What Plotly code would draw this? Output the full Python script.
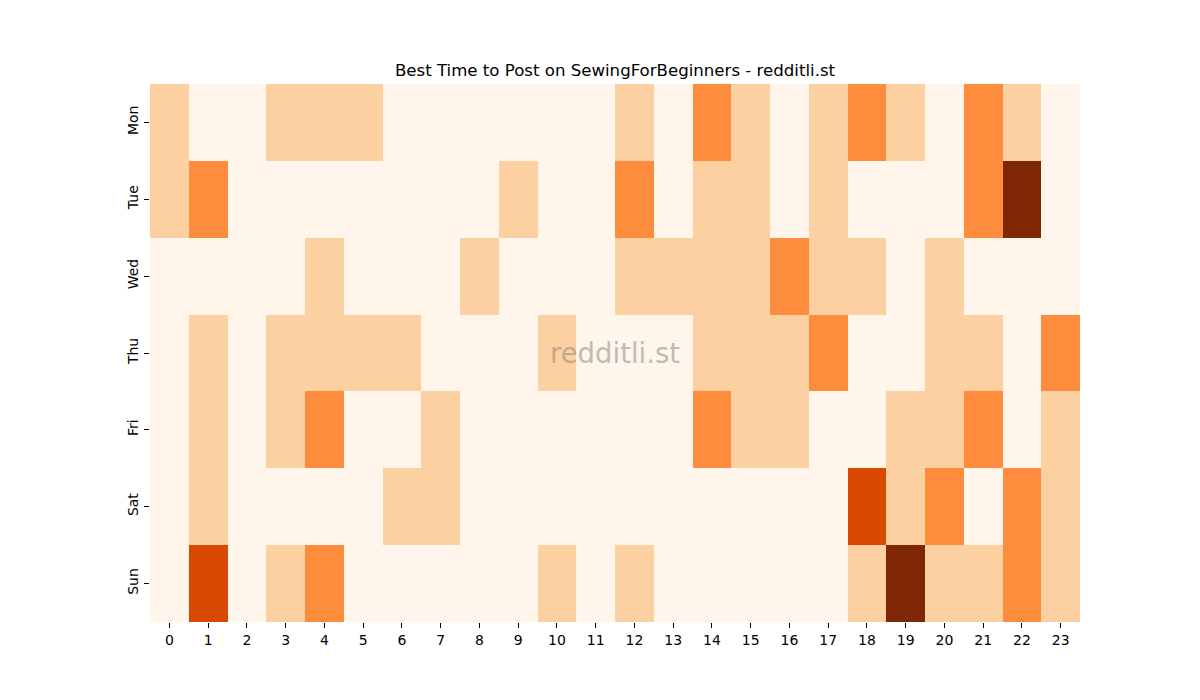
import plotly.graph_objects as go

days = ["Mon", "Tue", "Wed", "Thu", "Fri", "Sat", "Sun"]
hours = [str(h) for h in range(24)]

mon = [1, 0, 0, 1, 1, 1, 0, 0, 0, 0, 0, 0, 1, 0, 2, 1, 0, 1, 2, 1, 0, 2, 1, 0]
tue = [1, 2, 0, 0, 0, 0, 0, 0, 0, 1, 0, 0, 2, 0, 1, 1, 0, 1, 0, 0, 0, 2, 4, 0]
wed = [0, 0, 0, 0, 1, 0, 0, 0, 1, 0, 0, 0, 1, 1, 1, 1, 2, 1, 1, 0, 1, 0, 0, 0]
thu = [0, 1, 0, 1, 1, 1, 1, 0, 0, 0, 1, 0, 0, 0, 1, 1, 1, 2, 0, 0, 1, 1, 0, 2]
fri = [0, 1, 0, 1, 2, 0, 0, 1, 0, 0, 0, 0, 0, 0, 2, 1, 1, 0, 0, 1, 1, 2, 0, 1]
sat = [0, 1, 0, 0, 0, 0, 1, 1, 0, 0, 0, 0, 0, 0, 0, 0, 0, 0, 3, 1, 2, 0, 2, 1]
sun = [0, 3, 0, 1, 2, 0, 0, 0, 0, 0, 1, 0, 1, 0, 0, 0, 0, 0, 1, 4, 1, 1, 2, 1]

z = [mon, tue, wed, thu, fri, sat, sun]

colorscale = [
    [0.0, "#fff5eb"],
    [0.25, "#fdd0a2"],
    [0.5, "#fd8d3c"],
    [0.75, "#d94801"],
    [1.0, "#7f2704"],
]

fig = go.Figure(
    go.Heatmap(
        z=z,
        x=hours,
        y=days,
        colorscale=colorscale,
        zmin=0,
        zmax=4,
        showscale=False,
        xgap=0,
        ygap=0,
    )
)

fig.add_annotation(
    text="redditli.st",
    x=0.5,
    y=0.5,
    xref="paper",
    yref="paper",
    showarrow=False,
    font=dict(size=27.5, color="rgba(128,128,128,0.5)", family="DejaVu Sans"),
)

fig.update_layout(
    width=1200,
    height=700,
    paper_bgcolor="white",
    plot_bgcolor="white",
    margin=dict(l=142, r=128, t=76, b=86),
    font=dict(family="DejaVu Sans", size=14, color="black"),
    title=dict(
        text="Best Time to Post on SewingForBeginners - redditli.st",
        x=(615 - 8) / 1200,
        xanchor="center",
        y=1 - 62 / 700,
        yanchor="middle",
        font=dict(size=16.6, color="black", family="DejaVu Sans"),
    ),
    xaxis=dict(
        type="category",
        ticks="outside",
        ticklen=5,
        tickcolor="black",
        showgrid=False,
        zeroline=False,
        showline=False,
    ),
    yaxis=dict(
        type="category",
        autorange="reversed",
        ticks="outside",
        ticklen=5,
        tickcolor="black",
        tickangle=-90,
        showgrid=False,
        zeroline=False,
        showline=False,
    ),
)

fig.write_html("out.html")
